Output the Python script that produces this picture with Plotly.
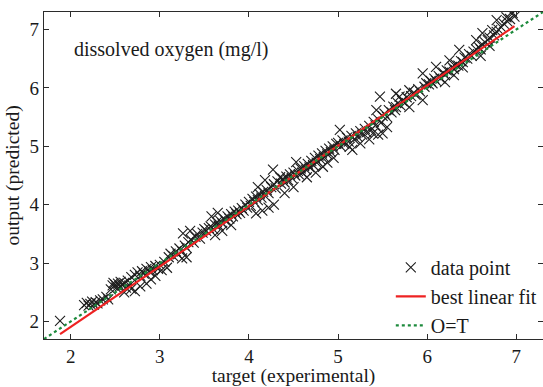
import plotly.graph_objects as go

# ---- data ----
target = [
    1.88,
    2.15, 2.18, 2.20, 2.22, 2.24, 2.26, 2.28, 2.30, 2.33, 2.36, 2.40, 2.42,
    2.45, 2.47, 2.48, 2.50, 2.51, 2.53, 2.55, 2.56, 2.58, 2.60, 2.62, 2.64, 2.66,
    2.60, 2.68, 2.72, 2.78, 2.85, 2.90,
    2.68, 2.72, 2.75, 2.78, 2.80, 2.82, 2.85, 2.88, 2.90, 2.92, 2.95, 2.98, 3.00,
    2.95, 3.02, 3.08, 3.25, 3.30,
    3.05, 3.10, 3.12, 3.15, 3.18, 3.20, 3.22, 3.25, 3.28, 3.30, 3.32, 3.35, 3.38, 3.40, 3.42, 3.26, 3.34, 3.45,
    3.48, 3.50, 3.52, 3.55, 3.57, 3.60, 3.62, 3.64, 3.66, 3.68, 3.70, 3.72, 3.74, 3.76, 3.78, 3.80, 3.82, 3.84,
    3.86, 3.88, 3.90, 3.92, 3.94, 3.65, 3.58, 3.70, 3.80, 3.62,
    3.96, 3.98, 4.00, 4.02, 4.04, 4.06, 4.08, 4.10, 4.12, 4.14, 4.16, 4.18, 4.20, 4.22, 4.18, 4.10, 4.08, 4.15, 4.22, 4.28,
    4.25, 4.27, 4.28, 4.30, 4.32, 4.35, 4.36, 4.38, 4.40, 4.42, 4.44, 4.46, 4.48, 4.50, 4.53, 4.52, 4.55, 4.56, 4.58, 4.60, 4.40, 4.50,
    4.62, 4.64, 4.65, 4.66, 4.68, 4.70, 4.72, 4.74, 4.76, 4.78, 4.80, 4.82, 4.83, 4.84, 4.86, 4.88, 4.90, 4.92, 4.94, 4.96, 4.98, 4.75, 4.88, 4.95,
    5.00, 5.02, 5.03, 5.05, 5.07, 5.10, 5.12, 5.13, 5.15, 5.16, 5.18, 5.20, 5.22, 5.25, 5.27, 5.30, 5.32, 5.35, 5.37, 5.39,
    5.40, 5.42, 5.43, 5.45, 5.47, 5.48, 5.50, 5.50, 5.55, 5.25, 5.35, 5.45,
    5.52, 5.55, 5.57, 5.60, 5.62, 5.64, 5.65, 5.65, 5.67, 5.69, 5.70, 5.72, 5.75, 5.77, 5.80, 5.80, 5.82, 5.85, 5.87, 5.90,
    5.92, 5.95, 5.95, 5.97, 5.99,
    6.02, 6.04, 6.06, 6.08, 6.10, 6.10, 6.13, 6.15, 6.18, 6.20, 6.22, 6.25, 6.25, 6.28, 6.30, 6.32, 6.35, 6.36, 6.38, 6.40,
    6.42, 6.45, 6.47, 6.50, 6.20, 6.30, 6.40,
    6.52, 6.55, 6.55, 6.58, 6.60, 6.62, 6.62, 6.65, 6.68, 6.70, 6.73, 6.75, 6.78, 6.78, 6.80, 6.83, 6.86, 6.89, 6.90, 6.93,
    6.96, 6.98, 6.60, 6.70,
]
output = [
    2.01,
    2.28, 2.32, 2.27, 2.30, 2.34, 2.29, 2.33, 2.31, 2.36, 2.38, 2.42, 2.38,
    2.55, 2.62, 2.66, 2.63, 2.58, 2.65, 2.60, 2.68, 2.62, 2.66, 2.58, 2.70, 2.62,
    2.50, 2.56, 2.52, 2.60, 2.65, 2.72,
    2.76, 2.80, 2.84, 2.78, 2.86, 2.82, 2.90, 2.86, 2.93, 2.88, 2.95, 2.90, 2.97,
    2.78, 2.88, 2.92, 3.08, 3.10,
    3.02, 3.10, 3.16, 3.12, 3.20, 3.15, 3.25, 3.20, 3.30, 3.26, 3.36, 3.40, 3.35, 3.45, 3.50, 3.51, 3.55, 3.42,
    3.52, 3.58, 3.55, 3.60, 3.63, 3.58, 3.66, 3.70, 3.64, 3.72, 3.68, 3.76, 3.72, 3.80, 3.76, 3.84, 3.80, 3.88,
    3.84, 3.90, 3.86, 3.94, 3.90, 3.86, 3.80, 3.55, 3.65, 3.48,
    4.00, 3.95, 4.05, 3.98, 4.10, 4.05, 4.14, 4.08, 4.18, 4.12, 4.22, 4.15, 4.25, 4.20, 4.42, 4.30, 3.85, 3.90, 3.95, 4.00,
    4.30, 4.60, 4.35, 4.28, 4.40, 4.47, 4.36, 4.44, 4.38, 4.48, 4.42, 4.52, 4.46, 4.55, 4.73, 4.50, 4.58, 4.52, 4.62, 4.55, 4.20, 4.30,
    4.66, 4.60, 4.47, 4.70, 4.64, 4.75, 4.68, 4.80, 4.72, 4.84, 4.78, 4.88, 4.65, 4.82, 4.92, 4.86, 4.96, 4.90, 5.00, 4.94, 5.04, 4.55, 4.72, 4.80,
    5.06, 5.28, 5.00, 5.10, 5.04, 5.15, 5.08, 4.99, 5.18, 4.94, 5.12, 5.22, 5.16, 5.26, 5.20, 5.30, 5.24, 5.35, 5.28, 5.22,
    5.42, 5.36, 5.62, 5.46, 5.85, 5.40, 5.52, 5.22, 5.33, 5.05, 5.12, 5.20,
    5.56, 5.50, 5.62, 5.58, 5.68, 5.62, 5.67, 5.90, 5.74, 5.85, 5.70, 5.78, 5.74, 5.84, 5.96, 5.67, 5.86, 5.92, 5.88, 5.98,
    5.94, 6.25, 5.79, 6.02, 6.08,
    6.06, 6.12, 6.08, 6.16, 6.36, 6.12, 6.20, 6.16, 6.26, 6.22, 6.30, 6.47, 6.28, 6.36, 6.32, 6.40, 6.38, 6.65, 6.46, 6.44,
    6.52, 6.50, 6.58, 6.55, 6.10, 6.22, 6.35,
    6.62, 6.82, 6.66, 6.70, 6.66, 6.94, 6.74, 6.78, 6.82, 6.86, 6.99, 6.90, 7.16, 6.96, 7.00, 7.04, 7.10, 7.21, 7.14, 7.18,
    7.28, 7.22, 6.55, 6.72,
]

fit_slope = 1.034
fit_intercept = -0.16
axis_range = [1.7, 7.3]
tick_values = [2, 3, 4, 5, 6, 7]
series_names = ["data point", "best linear fit", "O=T"]
x_title = "target (experimental)"
y_title = "output (predicted)"
inner_label = "dissolved oxygen (mg/l)"

FONT = "Liberation Serif"
AX = "#2b2b2b"

fit_x = [min(target), max(target)]
fit_y = [fit_slope * v + fit_intercept for v in fit_x]

fig = go.Figure()
fig.add_trace(go.Scatter(
    x=target, y=output, mode="markers", name=series_names[0],
    marker=dict(symbol="x-thin-open", size=10, color="#1e1e1e",
                line=dict(width=1.1, color="#1e1e1e")),
))
fig.add_trace(go.Scatter(
    x=fit_x, y=fit_y, mode="lines", name=series_names[1],
    line=dict(color="#ee2222", width=2.2),
))
fig.add_trace(go.Scatter(
    x=axis_range, y=axis_range, mode="lines", name=series_names[2],
    line=dict(color="#1d8a3c", width=2.2, dash="dot"),
))

axis_common = dict(
    range=axis_range, tickvals=tick_values, ticks="inside", ticklen=5,
    tickcolor=AX, tickwidth=1, showline=True, linecolor=AX, linewidth=1.2,
    mirror="ticks", showgrid=False, zeroline=False,
    tickfont=dict(family=FONT, size=19, color="#1a1a1a"),
)

fig.update_layout(
    width=543, height=387,
    margin=dict(l=44, r=0, t=12, b=48),
    paper_bgcolor="white", plot_bgcolor="white",
    xaxis=dict(**axis_common, title=dict(text=x_title, standoff=2,
               font=dict(family=FONT, size=19.5, color="#1a1a1a"))),
    yaxis=dict(**axis_common, title=dict(text=y_title, standoff=4,
               font=dict(family=FONT, size=19.5, color="#1a1a1a"))),
    legend=dict(x=0.695, y=-0.018, xanchor="left", yanchor="bottom",
                bgcolor="rgba(0,0,0,0)", tracegroupgap=0,
                font=dict(family=FONT, size=20, color="#1a1a1a")),
    annotations=[dict(text=inner_label, xref="paper", yref="paper",
                      x=0.056, y=0.885, xanchor="left", yanchor="middle",
                      showarrow=False,
                      font=dict(family=FONT, size=20, color="#1a1a1a"))],
)

fig.write_html("out.html")
